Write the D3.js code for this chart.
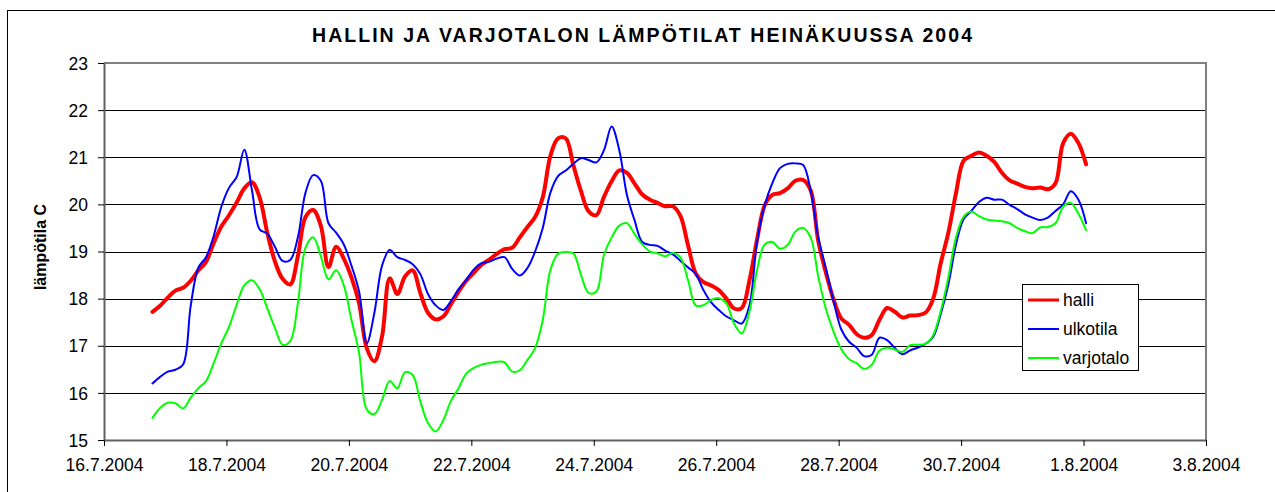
<!DOCTYPE html>
<html>
<head>
<meta charset="utf-8">
<script src="https://cdn.jsdelivr.net/npm/d3@7"></script>
<style>
  body { margin: 0; background: #fff; }
  svg { display: block; font-family: "Liberation Sans", Arial, sans-serif; }
</style>
</head>
<body>
<div id="chart"></div>
<script>
// readings every 3 hours, first one 16.7.2004 19:00
const startTime = new Date(2004, 6, 16, 19);
const stepHours = 3;

const halli = [
  17.72, 17.85, 18.02, 18.17, 18.23, 18.38, 18.6, 18.78, 19.18, 19.53,
  19.77, 20.04, 20.34, 20.47, 20.15, 19.4, 18.79, 18.42, 18.3, 18.9,
  19.73, 19.88, 19.55, 18.67, 19.1, 18.85, 18.45, 17.9, 16.95, 16.67,
  17.2, 18.43, 18.1, 18.47, 18.6, 18.12, 17.7, 17.56, 17.62, 17.88,
  18.15, 18.38, 18.55, 18.72, 18.83, 18.95, 19.05, 19.08, 19.3, 19.52,
  19.73, 20.15, 21.03, 21.4, 21.4, 20.83, 20.28, 19.85, 19.77, 20.16,
  20.49, 20.72, 20.67, 20.44, 20.21, 20.1, 20.03, 19.96, 19.96, 19.75,
  19.12, 18.53, 18.35, 18.28, 18.18, 18.0, 17.79, 17.8, 18.38, 19.25,
  19.98, 20.2, 20.24, 20.34, 20.5, 20.52, 20.3, 19.22, 18.55, 17.98,
  17.58, 17.45, 17.25, 17.17, 17.23, 17.55, 17.8, 17.72, 17.6, 17.64,
  17.65, 17.7, 17.99, 18.75, 19.4, 20.24, 20.93, 21.03, 21.1, 21.03,
  20.9, 20.67, 20.51, 20.44, 20.37, 20.34, 20.36, 20.32, 20.45, 21.3,
  21.5, 21.3, 20.85
];

const ulkotila = [
  16.2, 16.34, 16.45, 16.49, 16.6, 17.85, 18.66, 18.88, 19.33, 19.95,
  20.35, 20.58, 21.16, 20.3, 19.47, 19.38, 19.1, 18.8, 18.82, 19.3,
  20.25, 20.62, 20.5, 19.6, 19.4, 19.15, 18.7, 18.15, 17.05, 17.7,
  18.7, 19.03, 18.88, 18.82, 18.73, 18.52, 18.1, 17.86, 17.76, 17.95,
  18.2, 18.4, 18.62, 18.75, 18.78, 18.85, 18.88, 18.63, 18.49, 18.65,
  19.0, 19.5, 20.25, 20.6, 20.72, 20.86, 20.98, 20.94, 20.89, 21.15,
  21.65, 21.15, 20.2, 19.66, 19.2, 19.14, 19.12, 19.02, 18.94, 18.8,
  18.66, 18.52, 18.18, 17.92, 17.76, 17.62, 17.54, 17.47, 17.85, 19.2,
  19.98, 20.45, 20.77, 20.86, 20.87, 20.84, 20.3, 19.3, 18.64, 17.95,
  17.35, 17.09, 16.96, 16.78, 16.81, 17.17, 17.12, 16.95, 16.82, 16.9,
  16.96, 17.04, 17.18, 17.67, 18.3, 19.15, 19.69, 19.86, 20.05, 20.14,
  20.1, 20.1, 19.99, 19.9, 19.79, 19.72, 19.67, 19.72, 19.86, 20.0,
  20.28, 20.1, 19.6
];

const varjotalo = [
  15.47, 15.68, 15.79, 15.78, 15.67, 15.9, 16.1, 16.25, 16.63, 17.05,
  17.4, 17.87, 18.28, 18.39, 18.2, 17.8, 17.38, 17.02, 17.1, 17.9,
  19.08, 19.3, 18.9, 18.41, 18.6, 18.28, 17.55, 16.85, 15.65, 15.55,
  15.85, 16.25, 16.1, 16.44, 16.38, 15.82, 15.36, 15.18, 15.42, 15.83,
  16.1, 16.41, 16.53, 16.6, 16.63, 16.66, 16.65, 16.45, 16.48, 16.7,
  16.95, 17.55, 18.61, 18.95, 18.99, 18.96, 18.5, 18.12, 18.15, 18.93,
  19.3, 19.55, 19.6, 19.37, 19.15, 19.0, 18.96, 18.9, 18.97, 18.87,
  18.38, 17.85, 17.86, 17.97, 18.01, 17.9, 17.47, 17.26, 17.72, 18.6,
  19.15, 19.2, 19.06, 19.14, 19.42, 19.5, 19.3, 18.47, 17.78, 17.3,
  16.93, 16.72, 16.63, 16.51, 16.6, 16.9, 16.96, 16.92, 16.87, 17.01,
  17.02, 17.04, 17.22, 17.73, 18.45, 19.3, 19.74, 19.85, 19.75, 19.68,
  19.66, 19.64, 19.6, 19.5, 19.43, 19.39, 19.51, 19.52, 19.6, 19.95,
  20.03, 19.8, 19.45
];

const seriesNames = ["halli", "ulkotila", "varjotalo"];
const seriesColors = ["#ff0000", "#0000ff", "#00ff00"];
const seriesWidths = [4, 2, 2];

const xTicks = ["2004-07-16", "2004-07-18", "2004-07-20", "2004-07-22", "2004-07-24",
                "2004-07-26", "2004-07-28", "2004-07-30", "2004-08-01", "2004-08-03"];
const yTicks = [15, 16, 17, 18, 19, 20, 21, 22, 23];

const title = "HALLIN JA VARJOTALON LÄMPÖTILAT HEINÄKUUSSA 2004";
const yTitle = "lämpötila C";

const width = 1275, height = 492;
const margin = {top: 63, right: 69, bottom: 52, left: 104};

const parseDay = d3.timeParse("%Y-%m-%d");
const tickDates = xTicks.map(parseDay);

const svg = d3.select("#chart").append("svg")
    .attr("width", width)
    .attr("height", height);

// outer frame of the chart object
svg.append("rect")
    .attr("x", 7.5).attr("y", 10.5)
    .attr("width", 1280).attr("height", 500)
    .attr("fill", "#fff")
    .attr("stroke", "#000")
    .attr("stroke-width", 1);

const x = d3.scaleTime()
    .domain([tickDates[0], tickDates[tickDates.length - 1]])
    .range([margin.left, width - margin.right]);

const y = d3.scaleLinear()
    .domain([15, 23])
    .range([height - margin.bottom, margin.top]);

// gridlines
svg.append("g")
    .selectAll("line")
    .data(yTicks.slice(1, -1))
    .enter()
    .append("line")
    .attr("x1", margin.left).attr("x2", width - margin.right)
    .attr("y1", d => Math.round(y(d)) + 0.5)
    .attr("y2", d => Math.round(y(d)) + 0.5)
    .attr("stroke", "#000")
    .attr("stroke-width", 1);

// plot border (top / right in grey)
svg.append("path")
    .attr("d", `M${margin.left},${y(23)}H${width - margin.right}V${y(15)}`)
    .attr("fill", "none")
    .attr("stroke", "#808080")
    .attr("stroke-width", 2);

const xAxis = svg.append("g")
    .attr("transform", `translate(0,${y(15)})`)
    .call(d3.axisBottom(x)
        .tickValues(tickDates)
        .tickFormat(d3.timeFormat("%-d.%-m.%Y"))
        .tickSize(6)
        .tickSizeOuter(0));

const yAxis = svg.append("g")
    .attr("transform", `translate(${margin.left},0)`)
    .call(d3.axisLeft(y)
        .tickValues(yTicks)
        .tickFormat(d3.format("d"))
        .tickSize(6)
        .tickPadding(10)
        .tickSizeOuter(0));

[xAxis, yAxis].forEach(g => {
    g.select(".domain").attr("stroke", "#606060").attr("stroke-width", 2);
    g.selectAll(".tick line").attr("stroke", "#000");
    g.selectAll(".tick text")
        .attr("fill", "#000")
        .style("font-size", "17.5px")
        .style("font-family", "'Liberation Sans', Arial, sans-serif");
});
xAxis.selectAll(".tick text").attr("dy", "1.25em");
yAxis.selectAll(".tick text").attr("dy", "0.35em");

// lines
const times = halli.map((_, i) => d3.timeHour.offset(startTime, i * stepHours));
const allSeries = [halli, ulkotila, varjotalo];

const line = d3.line()
    .x((d, i) => x(times[i]))
    .y(d => y(d))
    .curve(d3.curveCatmullRom.alpha(0.5));

svg.append("g")
    .selectAll("path")
    .data(allSeries)
    .enter()
    .append("path")
    .attr("d", d => line(d))
    .attr("fill", "none")
    .attr("stroke", (d, i) => seriesColors[i])
    .attr("stroke-width", (d, i) => seriesWidths[i])
    .attr("stroke-linejoin", "round")
    .attr("stroke-linecap", "round");

// titles
svg.append("text")
    .attr("x", 642)
    .attr("y", 42)
    .attr("text-anchor", "middle")
    .attr("textLength", 660)
    .attr("lengthAdjust", "spacing")
    .style("font-size", "19.5px")
    .style("font-weight", "bold")
    .text(title);

svg.append("text")
    .attr("transform", `translate(46,247) rotate(-90)`)
    .attr("text-anchor", "middle")
    .style("font-size", "16px")
    .style("font-weight", "bold")
    .text(yTitle);

// legend
const legend = svg.append("g").attr("transform", "translate(1022,284)");
legend.append("rect")
    .attr("x", 0.5).attr("y", 0.5)
    .attr("width", 116).attr("height", 86)
    .attr("fill", "#fff")
    .attr("stroke", "#000");

const item = legend.selectAll(".item")
    .data(seriesNames)
    .enter()
    .append("g")
    .attr("class", "item")
    .attr("transform", (d, i) => `translate(0,${16 + i * 29})`);

item.append("line")
    .attr("x1", 6).attr("x2", 37)
    .attr("stroke", (d, i) => seriesColors[i])
    .attr("stroke-width", (d, i) => seriesWidths[i] === 4 ? 3 : 2);

item.append("text")
    .attr("x", 41)
    .attr("dy", "0.35em")
    .style("font-size", "17.5px")
    .text(d => d);
</script>
</body>
</html>
